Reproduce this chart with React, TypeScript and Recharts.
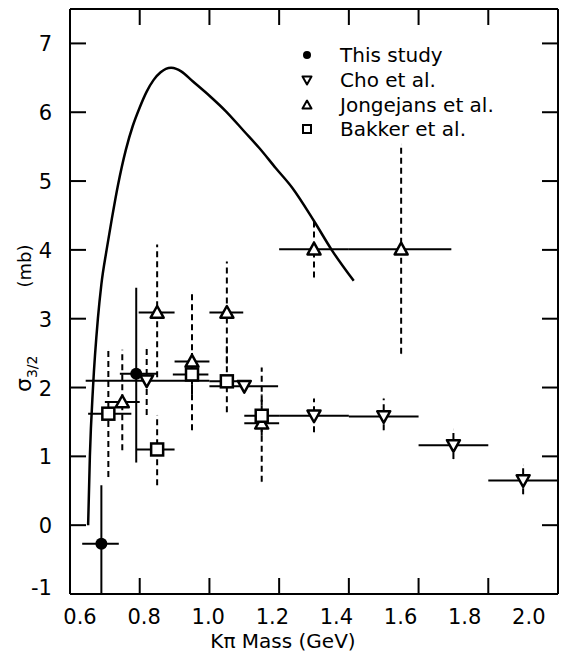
import React from "react";
import { ScatterChart, Scatter, XAxis, YAxis, ErrorBar, Legend, ReferenceLine } from "recharts";

// model curve for sigma 3/2
const curveMass = [0.652, 0.657, 0.666, 0.68, 0.69, 0.705, 0.72, 0.738, 0.76, 0.78, 0.8, 0.82, 0.84, 0.86, 0.875, 0.89, 0.905, 0.92, 0.952, 1.0, 1.048, 1.1, 1.143, 1.19, 1.238, 1.3, 1.352, 1.414];
const curveSigma = [0, 1, 2, 3, 3.5, 4, 4.45, 4.95, 5.45, 5.8, 6.07, 6.3, 6.47, 6.58, 6.63, 6.645, 6.63, 6.59, 6.45, 6.24, 6.01, 5.72, 5.48, 5.19, 4.9, 4.42, 3.99, 3.55];

// rows: [mass, sigma, mass low, mass high, sigma low, sigma high]
const thisStudy = [
  [0.69, -0.27, 0.635, 0.74, -1.0, 0.58],
  [0.79, 2.2, 0.743, 0.851, 0.91, 3.45],
];
const cho = [
  [0.82, 2.1, 0.645, 1.0, 1.6, 2.57],
  [1.1, 2.02, 1.0, 1.197, 2.02, 2.02],
  [1.3, 1.59, 1.2, 1.4, 1.35, 1.84],
  [1.5, 1.58, 1.4, 1.6, 1.38, 1.84],
  [1.7, 1.16, 1.6, 1.8, 0.96, 1.39],
  [1.9, 0.65, 1.8, 2.0, 0.45, 0.87],
];
const jongejans = [
  [0.75, 1.79, 0.7, 0.8, 1.09, 2.55],
  [0.85, 3.09, 0.797, 0.9, 2.15, 4.08],
  [0.95, 2.38, 0.9, 1.0, 1.38, 3.38],
  [1.05, 3.09, 1.0, 1.097, 2.35, 3.83],
  [1.15, 1.48, 1.1, 1.2, 0.63, 2.29],
  [1.3, 4.01, 1.2, 1.4, 3.6, 4.42],
  [1.55, 4.01, 1.4, 1.694, 2.49, 5.53],
];
const bakker = [
  [0.71, 1.62, 0.652, 0.776, 0.7, 2.54],
  [0.85, 1.1, 0.79, 0.9, 0.58, 1.6],
  [0.95, 2.19, 0.895, 0.997, 1.9, 2.5],
  [1.05, 2.09, 1.0, 1.1, 1.64, 2.6],
  [1.15, 1.59, 1.1, 1.2, 1.3, 1.9],
];

const seriesNames = ["This study", "Cho et al.", "Jongejans et al.", "Bakker et al."];
const seriesKinds = ["circle", "down", "up", "square"];

const massTicks = [0.6, 0.8, 1.0, 1.2, 1.4, 1.6, 1.8, 2.0];
const innerMassTicks = [0.8, 1.0, 1.2, 1.4, 1.6, 1.8];
const sigmaTicks = [-1, 0, 1, 2, 3, 4, 5, 6, 7];
const innerSigmaTicks = [0, 1, 2, 3, 4, 5, 6, 7];

const X_MIN = 0.6;
const X_MAX = 2.0;
const Y_MIN = -1;
const Y_MAX = 7.5;

const INK = "#000";
const TICK_LEN = 16;

// chart box and plot area (from the margins and axis sizes below)
const CHART_W = 560;
const CHART_H = 650;
const PLOT = { left: 62, top: 1, width: 488, height: 585 };

const curveData = curveMass.map((m, i) => ({ m, s: curveSigma[i] }));

const toPoints = (rows: number[][]) =>
  rows.map(([m, s, mLo, mHi, sLo, sHi]) => ({
    m,
    s,
    ex: [m - mLo, mHi - m],
    ey: [s - sLo, sHi - s],
  }));

function Marker({ cx, cy, kind, r = 6.5 }: { cx: number; cy: number; kind: string; r?: number }) {
  const sw = r > 5 ? 2.5 : 2;
  if (kind === "circle") return <circle cx={cx} cy={cy} r={r - 0.5} fill={INK} />;
  if (kind === "down")
    return (
      <path
        d={`M${cx - r},${cy - r * 0.8}L${cx + r},${cy - r * 0.8}L${cx},${cy + r}Z`}
        fill="#fff"
        stroke={INK}
        strokeWidth={sw}
        strokeLinejoin="round"
      />
    );
  if (kind === "up")
    return (
      <path
        d={`M${cx - r},${cy + r * 0.8}L${cx + r},${cy + r * 0.8}L${cx},${cy - r}Z`}
        fill="#fff"
        stroke={INK}
        strokeWidth={sw}
        strokeLinejoin="round"
      />
    );
  return (
    <rect x={cx - r + 0.5} y={cy - r + 0.5} width={2 * r - 1} height={2 * r - 1} fill="#fff" stroke={INK} strokeWidth={sw} />
  );
}

function LegendBox() {
  return (
    <div style={{ fontSize: 20, color: INK }}>
      {seriesNames.map((name, i) => (
        <div key={name} style={{ display: "flex", alignItems: "center", height: 24.7 }}>
          <svg width={20} height={20} style={{ overflow: "visible" }}>
            <Marker cx={10} cy={10} kind={seriesKinds[i]} r={4.5} />
          </svg>
          <span style={{ marginLeft: 23, whiteSpace: "nowrap" }}>{name}</span>
        </div>
      ))}
    </div>
  );
}

function BottomTick(p: any) {
  const v = p.payload.value;
  // the printed labels drift left of their ticks a little more at each step
  return (
    <text x={p.x + 10 - p.index * 5.6} y={p.y + 30} textAnchor="middle" fontSize={21} fill={INK}>
      {v.toFixed(1)}
    </text>
  );
}

function LeftTick(p: any) {
  const v = p.payload.value;
  return (
    <text x={p.x - 18} y={p.y + (v === -1 ? 1 : 8)} textAnchor="end" fontSize={21} fill={INK}>
      {v}
    </text>
  );
}

// inward frame ticks, laid over the chart on all four sides
function FrameTicks() {
  const px = (v: number) => PLOT.left + ((v - X_MIN) / (X_MAX - X_MIN)) * PLOT.width;
  const py = (v: number) => PLOT.top + ((Y_MAX - v) / (Y_MAX - Y_MIN)) * PLOT.height;
  const bottom = PLOT.top + PLOT.height;
  const right = PLOT.left + PLOT.width;
  return (
    <svg
      width={CHART_W}
      height={CHART_H}
      style={{ position: "absolute", left: 0, top: 0, pointerEvents: "none" }}
    >
      <g stroke={INK} strokeWidth={2}>
        {innerMassTicks.map((v) => (
          <line key={`b${v}`} x1={px(v)} x2={px(v)} y1={bottom} y2={bottom - TICK_LEN} />
        ))}
        {innerMassTicks.map((v) => (
          <line key={`t${v}`} x1={px(v)} x2={px(v)} y1={PLOT.top} y2={PLOT.top + TICK_LEN} />
        ))}
        {innerSigmaTicks.map((v) => (
          <line key={`l${v}`} x1={PLOT.left} x2={PLOT.left + TICK_LEN} y1={py(v)} y2={py(v)} />
        ))}
        {innerSigmaTicks.map((v) => (
          <line key={`r${v}`} x1={right} x2={right - TICK_LEN} y1={py(v)} y2={py(v)} />
        ))}
      </g>
    </svg>
  );
}

const axisLine = { stroke: INK, strokeWidth: 2 };

export default function App() {
  const series = [thisStudy, cho, jongejans, bakker];
  return (
    <div style={{ fontFamily: "DejaVu Sans, sans-serif", height: 644, position: "relative" }}>
      <ScatterChart width={CHART_W} height={CHART_H} margin={{ top: 1, right: 10, bottom: 0, left: 0 }}>
        <XAxis
          xAxisId="b"
          type="number"
          dataKey="m"
          domain={[X_MIN, X_MAX]}
          ticks={massTicks}
          interval={0}
          allowDataOverflow
          height={64}
          tickSize={0}
          tickMargin={0}
          axisLine={axisLine}
          tickLine={false}
          tick={BottomTick}
          label={{
            content: () => (
              <text x={275} y={640} textAnchor="middle" fontSize={20} fill={INK}>
                Kπ Mass (GeV)
              </text>
            ),
          }}
        />
        <YAxis
          yAxisId="l"
          type="number"
          dataKey="s"
          domain={[Y_MIN, Y_MAX]}
          ticks={sigmaTicks}
          interval={0}
          allowDataOverflow
          width={62}
          tickSize={0}
          tickMargin={0}
          axisLine={axisLine}
          tickLine={false}
          tick={LeftTick}
          label={{
            content: () => (
              <text x={23} y={384} transform="rotate(-90 23 384)" fontSize={22} fill={INK}>
                σ
                <tspan dy={6} fontSize={14}>3/2</tspan>
                <tspan dy={-6} dx={68} fontSize={18}>(mb)</tspan>
              </text>
            ),
          }}
        />
        {/* top and right sides of the frame */}
        <ReferenceLine xAxisId="b" yAxisId="l" y={Y_MAX} ifOverflow="visible" stroke={INK} strokeWidth={2} />
        <ReferenceLine xAxisId="b" yAxisId="l" x={X_MAX} ifOverflow="visible" stroke={INK} strokeWidth={2} />
        <Scatter
          xAxisId="b"
          yAxisId="l"
          data={curveData}
          line={{ stroke: INK, strokeWidth: 2.5 }}
          lineJointType="monotoneX"
          shape={() => <g />}
          isAnimationActive={false}
        />
        {series.map((rows, i) => (
          <Scatter
            key={seriesNames[i]}
            name={seriesNames[i]}
            xAxisId="b"
            yAxisId="l"
            data={toPoints(rows)}
            shape={(p: any) => <Marker cx={p.cx} cy={p.cy} kind={seriesKinds[i]} />}
            isAnimationActive={false}
          >
            <ErrorBar dataKey="ex" direction="x" width={0} stroke={INK} strokeWidth={2} isAnimationActive={false} />
            <ErrorBar
              dataKey="ey"
              direction="y"
              width={0}
              stroke={INK}
              strokeWidth={2}
              strokeDasharray={i === 0 ? undefined : "6 4"}
              isAnimationActive={false}
            />
          </Scatter>
        ))}
        <Legend
          layout="vertical"
          align="center"
          verticalAlign="middle"
          content={() => <LegendBox />}
          wrapperStyle={{ left: 289, top: 35, width: 260, height: 100 }}
        />
      </ScatterChart>
      <FrameTicks />
    </div>
  );
}
